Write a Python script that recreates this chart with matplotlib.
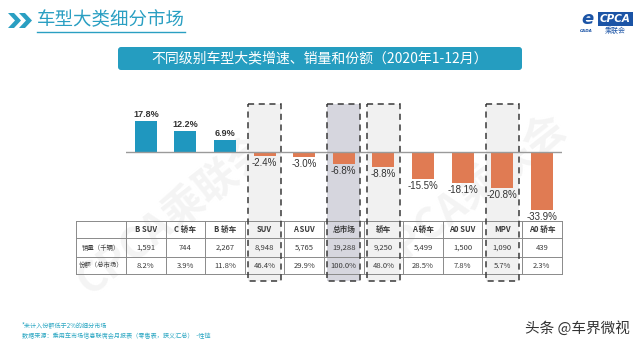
import matplotlib
matplotlib.use("Agg")
import matplotlib.pyplot as plt
from matplotlib.patches import Rectangle, Polygon, FancyBboxPatch

plt.rcParams['font.family'] = ['Noto Sans CJK SC', 'DejaVu Sans']

# ---------------- data ----------------
categories = ["B SUV", "C 轿车", "B 轿车", "SUV", "A SUV", "总市场", "轿车", "A 轿车", "A0 SUV", "MPV", "A0 轿车"]
growth = [17.8, 12.2, 6.9, -2.4, -3.0, -6.8, -8.8, -15.5, -18.1, -20.8, -33.9]
sales = ["1,591", "744", "2,267", "8,948", "5,765", "19,288", "9,250", "5,499", "1,500", "1,090", "439"]
share = ["8.2%", "3.9%", "11.8%", "46.4%", "29.9%", "100.0%", "48.0%", "28.5%", "7.8%", "5.7%", "2.3%"]
row_labels = ["销量（千辆）", "份额（总市场）"]
highlight = ["SUV", "总市场", "轿车", "MPV"]

title = "车型大类细分市场"
subtitle = "不同级别车型大类增速、销量和份额（2020年1-12月）"
note1 = "*未计入份额低于2%的细分市场"
note2 = "数据来源：乘用车市场信息联席会月报表（零售表，狭义汇总）  -性链"
credit = "头条 @车界微视"

BLUE = "#1f97bf"
ORANGE = "#e07b53"
TEAL = "#2a9fc2"

W, H = 640, 347
fig = plt.figure(figsize=(W / 100, H / 100), dpi=100)
ax0 = fig.add_axes([0, 0, 1, 1])
ax0.set_xlim(0, W)
ax0.set_ylim(H, 0)
ax0.axis("off")
ax0.patch.set_visible(False)

# layout (pixels)
col0_l, col0_r = 76, 126
cw = 39.6
n = len(categories)
cx = [col0_r + cw * (i + 0.5) for i in range(n)]
base_y = 152
pxp = 1.72  # pixels per percent
ax_top, ax_bot = 100, 290

# faint watermarks
for (wx, wy) in [(175, 215), (470, 195)]:
    ax0.text(wx, wy, "CPCA乘联会", fontsize=30, color="#f4f4f4", rotation=38,
             ha="center", va="center", fontweight="bold", style="italic", zorder=0)

# highlight boxes
for i, c in enumerate(categories):
    if c in highlight:
        fc = "#d6d6de" if c == "总市场" else "#f1f1f1"
        ax0.add_patch(Rectangle((cx[i] - 16.5, 104), 33, 177, facecolor=fc,
                                edgecolor="none", zorder=0.5))

# bars axes
ax = fig.add_axes([col0_r / W, (H - ax_bot) / H, cw * n / W, (ax_bot - ax_top) / H])
ax.patch.set_visible(False)
ax.set_xlim(-0.5, n - 0.5)
ax.set_ylim(-(ax_bot - base_y) / pxp, (base_y - ax_top) / pxp)
ax.axis("off")
ax.set_zorder(1)
colors = [BLUE if v >= 0 else ORANGE for v in growth]
ax.bar(range(n), growth, width=0.56, color=colors, zorder=2)
ax.axhline(0, color="#9a9a9a", lw=1.0, zorder=3)
for i, v in enumerate(growth):
    if v >= 0:
        ax.annotate(f"{v:.1f}%", (i, v), xytext=(0, 1.5), textcoords="offset points",
                    ha="center", va="bottom", fontsize=6.5, fontweight="bold",
                    family=["Liberation Sans"], color="#333333")
    else:
        ax.annotate(f"{v:.1f}%", (i, v), xytext=(0, -1.5), textcoords="offset points",
                    ha="center", va="top", fontsize=7,
                    family=["Liberation Sans"], color="#333333")

# dashed boxes (on top)
for i, c in enumerate(categories):
    if c in highlight:
        ax0.add_patch(Rectangle((cx[i] - 16.5, 104), 33, 177, facecolor="none",
                                edgecolor="#3a3a3a", lw=1.1, ls=(0, (4, 3)), zorder=5))

# table
rows_y = [221, 238, 257, 274]
tcol = "#8a8a8a"
for y in rows_y:
    ax0.plot([col0_l, col0_r + cw * n], [y, y], color=tcol, lw=0.7, zorder=4)
xs = [col0_l] + [col0_r + cw * k for k in range(n + 1)]
for x in xs:
    ax0.plot([x, x], [rows_y[0], rows_y[-1]], color=tcol, lw=0.7, zorder=4)
tk = dict(ha="center", va="center", color="#3a3a3a", zorder=6)
for i in range(n):
    ax0.text(cx[i], (rows_y[0] + rows_y[1]) / 2, categories[i], fontsize=5.5,
             fontweight="bold", **tk)
    ax0.text(cx[i], (rows_y[1] + rows_y[2]) / 2, sales[i], fontsize=5.5, **tk)
    ax0.text(cx[i], (rows_y[2] + rows_y[3]) / 2, share[i], fontsize=5.5, **tk)
for r, lab in enumerate(row_labels):
    ax0.text((col0_l + col0_r) / 2, (rows_y[r + 1] + rows_y[r + 2]) / 2, lab,
             fontsize=4.6, **tk)

# header title
for dx in (0, 11):
    ax0.add_patch(Polygon([(8 + dx, 13), (14 + dx, 13), (21 + dx, 20.5), (14 + dx, 28),
                           (8 + dx, 28), (15 + dx, 20.5)], closed=True,
                          facecolor=TEAL, edgecolor="none"))
ax0.text(37, 20, title, fontsize=13.3, color=TEAL, ha="left", va="center")
ax0.plot([37, 185], [32, 32], color=TEAL, lw=1.0)

# banner
ax0.add_patch(FancyBboxPatch((118, 47), 404, 23, boxstyle="round,pad=0,rounding_size=3",
                             facecolor="#259dc0", edgecolor="none"))
ax0.text(320, 58.5, subtitle, fontsize=10, color="white", ha="center", va="center")

# logo
ax0.add_patch(Rectangle((598, 12), 35, 14, facecolor="#1b54a6", edgecolor="none"))
ax0.text(615.5, 19, "CPCA", fontsize=7.5, color="white", ha="center", va="center",
         fontweight="bold", style="italic", family=["DejaVu Sans"])
ax0.text(615.5, 31, "乘联会", fontsize=5, color="#1b54a6", ha="center", va="center")
ax0.text(587, 19, "e", fontsize=13, color="#1b54a6", ha="center", va="center",
         style="italic", fontweight="bold", family=["DejaVu Sans"])
ax0.text(586, 31, "CADA", fontsize=3, color="#1b54a6", ha="center", va="center",
         style="italic", fontweight="bold", family=["DejaVu Sans"])

# notes
ax0.text(22, 325, note1, fontsize=4.4, color="#2aa6c2", ha="left", va="center")
ax0.text(22, 336, note2, fontsize=4.4, color="#2aa6c2", ha="left", va="center")
ax0.text(630, 328, credit, fontsize=10.5, color="#333333", ha="right", va="center")

fig.savefig("out.png", dpi=100)
